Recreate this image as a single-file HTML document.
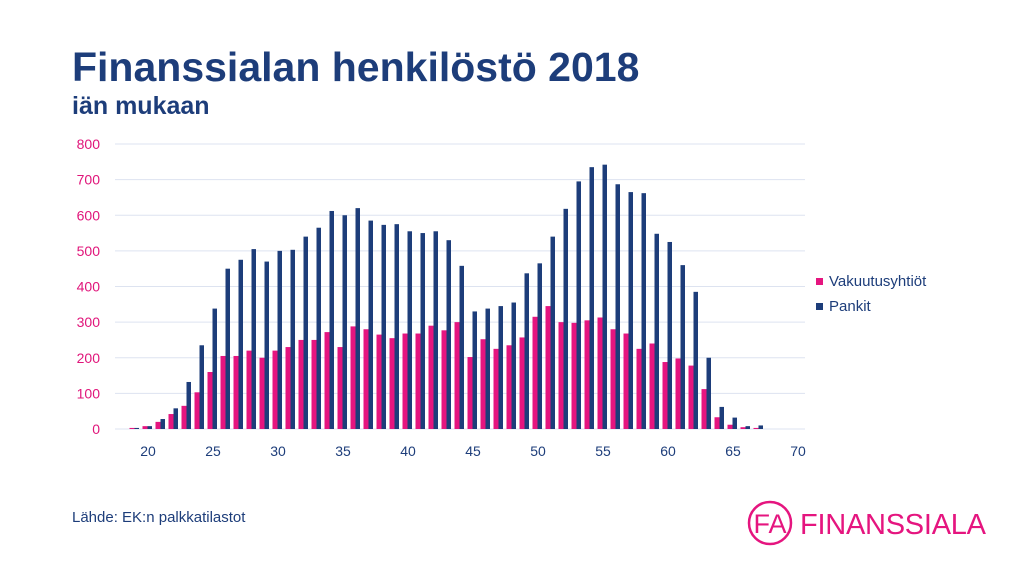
<!DOCTYPE html>
<html><head><meta charset="utf-8"><style>
body{margin:0;width:1024px;height:568px;background:#fff;font-family:"Liberation Sans",sans-serif;overflow:hidden;position:relative}
#title{position:absolute;left:72px;top:44px;font-size:41px;font-weight:bold;color:#1d3d7a;margin:0;letter-spacing:0px}
#sub{position:absolute;left:72px;top:92px;font-size:25px;font-weight:bold;color:#1d3d7a}
#src{position:absolute;left:72px;top:509px;font-size:15px;color:#1d3d7a}
</style></head><body>
<div id="title">Finanssialan henkilöstö 2018</div>
<div id="sub">iän mukaan</div>
<div id="src">Lähde: EK:n palkkatilastot</div>
<svg id="chart" width="1024" height="568" style="position:absolute;left:0;top:0"></svg>
<script>
const ages=[19,20,21,22,23,24,25,26,27,28,29,30,31,32,33,34,35,36,37,38,39,40,41,42,43,44,45,46,47,48,49,50,51,52,53,54,55,56,57,58,59,60,61,62,63,64,65,66,67];
const vakuutus=[3,8,20,42,65,103,160,205,205,220,200,220,230,250,250,272,230,288,280,265,255,268,268,290,277,300,202,252,225,235,257,315,345,300,298,305,313,280,268,225,240,188,198,178,112,33,12,5,3];
const pankit=[3,8,28,58,132,235,338,450,475,505,470,500,503,540,565,612,600,620,585,573,575,555,550,555,530,458,330,338,345,355,437,465,540,618,695,735,742,687,665,662,548,525,460,385,200,62,32,8,10];
const yTicks=[0,100,200,300,400,500,600,700,800];
const xTicks=[20,25,30,35,40,45,50,55,60,65,70];
const NS='http://www.w3.org/2000/svg',svg=document.getElementById('chart');
const y=v=>429-v*285/800, x=a=>148+(a-20)*13;
function mk(t,a){const e=document.createElementNS(NS,t);for(const k in a)e.setAttribute(k,a[k]);svg.appendChild(e);return e;}
yTicks.forEach(v=>{
 const l=mk('line',{x1:115,x2:805,y1:y(v),y2:y(v),stroke:'#dde3f0','stroke-width':1});
 
 
 const t=mk('text',{x:100,y:y(v)+5,'text-anchor':'end','font-size':14,fill:'#e0157a'});t.textContent=v;
 
 
});
xTicks.forEach(v=>{
 const t=mk('text',{x:x(v),y:456,'text-anchor':'middle','font-size':14,fill:'#1d3d7a'});t.textContent=v;
 
 
});
ages.forEach((a,i)=>{
 const r1=mk('rect',{x:x(a)-5.5,y:y(vakuutus[i]),width:5,height:429-y(vakuutus[i]),fill:'#e5157f'});
 
 
 const r2=mk('rect',{x:x(a)-0.5,y:y(pankit[i]),width:4.5,height:429-y(pankit[i]),fill:'#1d3d7a'});
 
 
});
[['Vakuutusyhtiöt','#e5157f',283],['Pankit','#1d3d7a',308]].forEach(([n,c,yy])=>{
 const s=mk('rect',{x:816,y:yy-5,width:7,height:7,fill:c});
 
 
 const t=mk('text',{x:829,y:yy+3,'font-size':15,fill:'#1d3d7a'});t.textContent=n;
 
 
});
const c=mk('circle',{cx:770,cy:523,r:21,fill:'none',stroke:'#e5157f','stroke-width':2.5});


const fa=mk('text',{x:770,y:533,'text-anchor':'middle','font-size':27,fill:'#e5157f'});fa.textContent='FA';


const lt=mk('text',{x:800,y:534,'font-size':29,fill:'#e5157f',textLength:186});lt.textContent='FINANSSIALA';


</script>
</body></html>
